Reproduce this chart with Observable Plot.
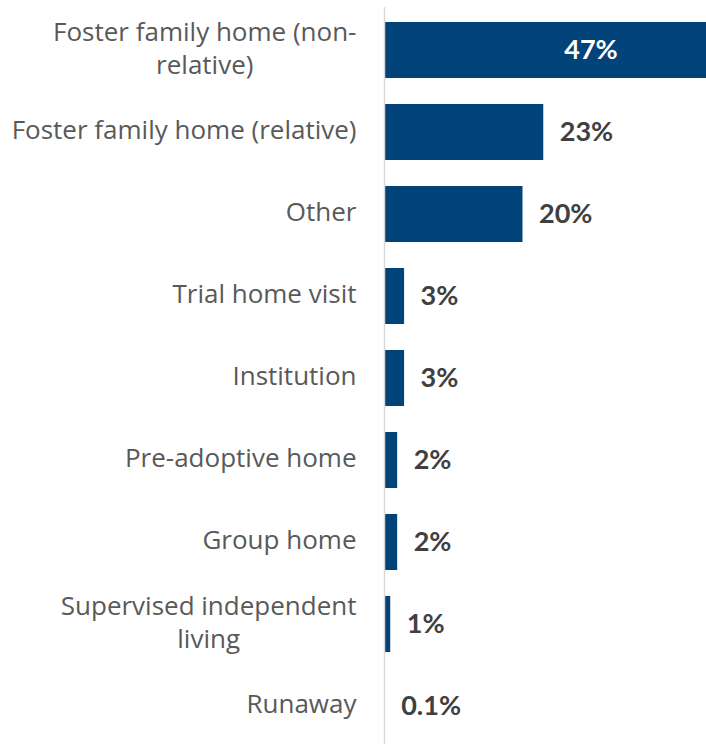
<!DOCTYPE html>
<html>
<head>
<meta charset="utf-8">
<script src="https://cdn.jsdelivr.net/npm/d3@7"></script>
<script src="https://cdn.jsdelivr.net/npm/@observablehq/plot@0.6"></script>
<style>
  html, body { margin: 0; padding: 0; background: #fff; overflow: hidden; }
  #chart svg { display: block; }
</style>
</head>
<body>
<div id="chart"></div>
<script>
const categories = [
  "Foster family home (non-\nrelative)",
  "Foster family home (relative)",
  "Other",
  "Trial home visit",
  "Institution",
  "Pre-adoptive home",
  "Group home",
  "Supervised independent\nliving",
  "Runaway"
];
const values = [47, 23, 20, 2.9, 2.9, 1.9, 1.9, 0.9, 0.1];
const valueLabels = ["47%", "23%", "20%", "3%", "3%", "2%", "2%", "1%", "0.1%"];

const data = categories.map((c, i) => ({category: c, value: values[i], label: valueLabels[i], inside: i === 0}));

const plot = Plot.plot({
  width: 706,
  height: 744,
  marginLeft: 384,
  marginRight: 0,
  marginTop: 7,
  marginBottom: 0,
  style: {fontFamily: "'Open Sans', sans-serif", background: "#fff"},
  x: {domain: [0, 46.5], axis: null},
  y: {domain: categories, range: [7, 748], paddingInner: 0.32, paddingOuter: 0.16, label: null},
  marks: [
    Plot.barX(data, {x: "value", y: "category", fill: "#024379", clip: true}),
    Plot.ruleX([0], {stroke: "#d9d9d9", strokeWidth: 1.5}),
    Plot.axisY({tickSize: 0, tickPadding: 28, dy: -4, fontSize: 26, lineHeight: 1.28, label: null, color: "#595959"}),
    Plot.text(data.filter(d => !d.inside), {
      x: "value", y: "category", text: "label", textAnchor: "start", dx: 16,
      fill: "#404040", fontSize: 27, fontWeight: "bold", fontFamily: "Lato, sans-serif"
    }),
    Plot.text(data.filter(d => d.inside), {
      x: "value", y: "category", text: "label", textAnchor: "middle", dx: -119,
      fill: "#ffffff", fontSize: 27, fontWeight: "bold", fontFamily: "Lato, sans-serif"
    })
  ]
});
document.getElementById("chart").appendChild(plot);

// center multi-line axis labels within their block, right-aligned as a block
plot.querySelectorAll("[aria-label='y-axis tick label'] text").forEach(t => {
  const spans = t.querySelectorAll("tspan");
  if (spans.length > 1) {
    let maxW = 0;
    spans.forEach(s => { maxW = Math.max(maxW, s.getComputedTextLength()); });
    const x0 = +(spans[0].getAttribute("x") || t.getAttribute("x") || 0);
    t.setAttribute("text-anchor", "middle");
    spans.forEach(s => s.setAttribute("x", x0 - maxW / 2));
  }
});
</script>
</body>
</html>
